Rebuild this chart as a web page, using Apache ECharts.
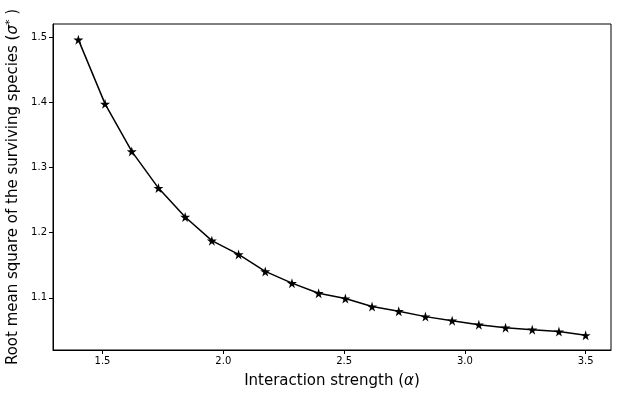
<!DOCTYPE html>
<html>
<head>
<meta charset="utf-8">
<script src="https://cdn.jsdelivr.net/npm/echarts@6/dist/echarts.min.js"></script>
<style>
  html, body { margin: 0; padding: 0; background: #fff; }
  #chart { width: 618px; height: 397px; }
</style>
</head>
<body>
<div id="chart"></div>
<script>
// interaction strength (alpha)
var alphaValues = [1.4, 1.5105, 1.6211, 1.7316, 1.8421, 1.9526, 2.0632, 2.1737, 2.2842, 2.3947,
  2.5053, 2.6158, 2.7263, 2.8368, 2.9474, 3.0579, 3.1684, 3.2789, 3.3895, 3.5]
// root mean square sigma*
var sigmaValues = [1.496, 1.3975, 1.3246, 1.2683, 1.224, 1.1877, 1.1666, 1.1405, 1.1225, 1.107,
  1.0989, 1.0866, 1.0794, 1.0712, 1.065, 1.0589, 1.0543, 1.0512, 1.0482, 1.0425]
var xTicks = [1.5, 2.0, 2.5, 3.0, 3.5]
var yTicks = [1.1, 1.2, 1.3, 1.4, 1.5]

var star = 'path://M50,0 L61,35 L98,35 L68,57 L79,91 L50,70 L21,91 L32,57 L2,35 L39,35 Z'

var chart = echarts.init(document.getElementById('chart'))

var option = {
  animation: false,
  textStyle: { fontFamily: 'DejaVu Sans' },
  grid: {
    left: 53, right: 7, top: 24, bottom: 47,
    containLabel: false,
    outerBoundsMode: 'none',
    show: true, borderColor: '#000', borderWidth: 1
  },
  xAxis: {
    type: 'value',
    min: 1.295,
    max: 3.605,
    name: 'Interaction strength ({i|α})',
    nameLocation: 'middle',
    nameGap: 24,
    nameTextStyle: {
      fontSize: 15, color: '#000',
      rich: { i: { fontSize: 15, fontStyle: 'italic', color: '#000' } }
    },
    splitLine: { show: false },
    axisLine: { lineStyle: { color: '#000' } },
    axisTick: { show: true, length: 4, inside: false, customValues: xTicks, lineStyle: { color: '#000' } },
    axisLabel: {
      customValues: xTicks, fontSize: 10, color: '#000', margin: 6,
      formatter: function (v) { return v.toFixed(1) }
    }
  },
  yAxis: {
    type: 'value',
    min: 1.02,
    max: 1.52,
    name: 'Root mean square of the surviving species ({i|σ}{sup|*} )',
    nameLocation: 'middle',
    nameRotate: 90,
    nameGap: 29,
    nameTextStyle: {
      fontSize: 15, color: '#000',
      rich: {
        i: { fontSize: 15, fontStyle: 'italic', color: '#000' },
        sup: { fontSize: 11, color: '#000', verticalAlign: 'top', padding: [0, 0, 6, 0] }
      }
    },
    splitLine: { show: false },
    axisLine: { lineStyle: { color: '#000' } },
    axisTick: { show: true, length: 4, customValues: yTicks, lineStyle: { color: '#000' } },
    axisLabel: {
      customValues: yTicks, fontSize: 10, color: '#000', margin: 6,
      formatter: function (v) { return v.toFixed(1) }
    }
  },
  series: [
    {
      type: 'line',
      data: alphaValues.map(function (a, i) { return [a, sigmaValues[i]] }),
      symbol: star,
      symbolSize: 10,
      showAllSymbol: true,
      lineStyle: { color: '#000', width: 1.5 },
      itemStyle: { color: '#000' }
    }
  ]
}
chart.setOption(option)
</script>
</body>
</html>
